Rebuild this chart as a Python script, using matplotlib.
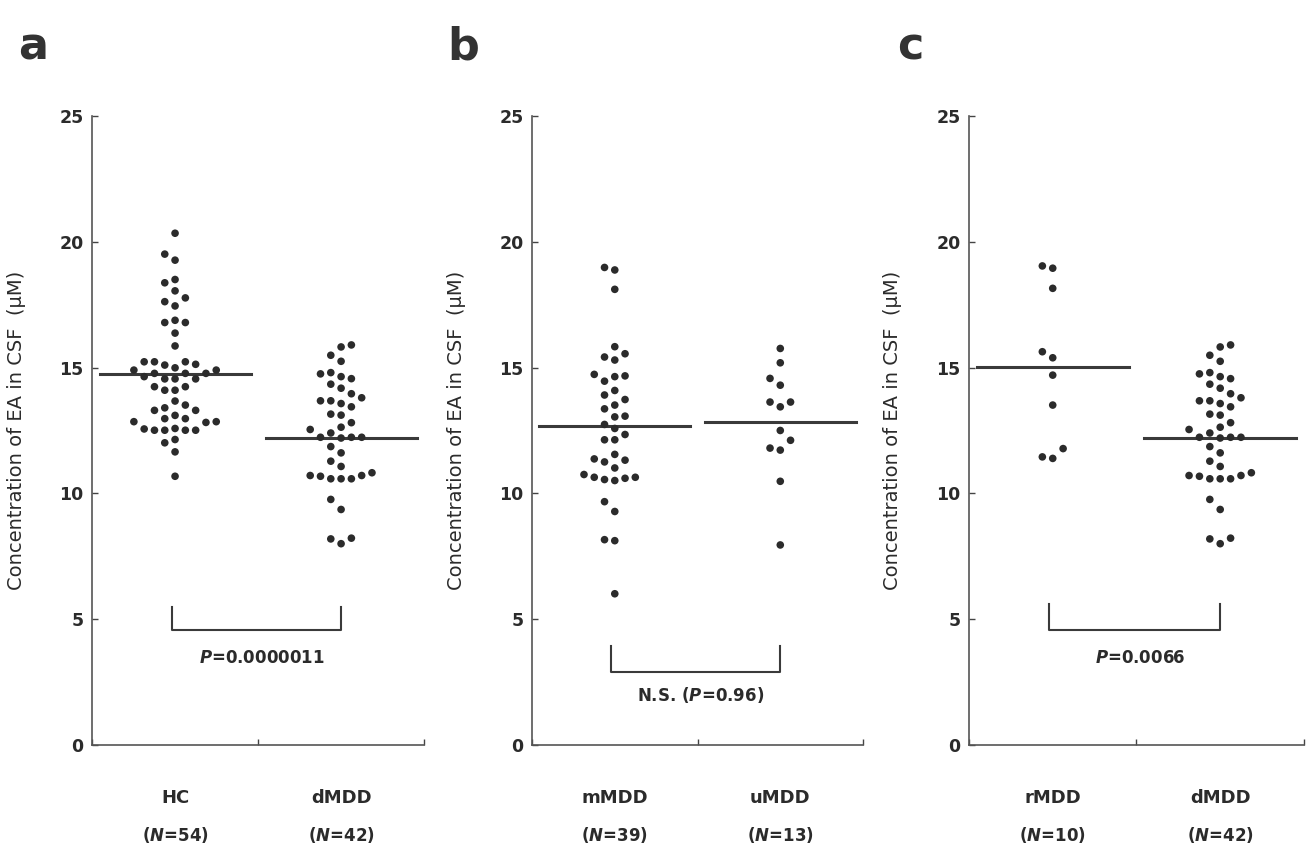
import matplotlib
matplotlib.use("Agg")
import matplotlib.pyplot as plt
import matplotlib.transforms as mtransforms
import numpy as np

plt.rcParams['font.family'] = ['DejaVu Sans']
plt.rcParams['mathtext.fontset'] = 'custom'
plt.rcParams['mathtext.it'] = 'DejaVu Sans:italic:bold'
plt.rcParams['mathtext.rm'] = 'DejaVu Sans:bold'

# EA concentration in CSF (uM)
hc = [20.34, 19.51, 19.27, 18.50, 18.37, 18.05, 17.77, 17.62, 17.45, 16.88,
      16.79, 16.79, 16.37, 15.86, 15.23, 15.23, 15.23, 15.10, 14.99, 15.13,
      14.90, 14.90, 14.77, 14.77, 14.77, 14.64, 14.55, 14.55, 14.55, 14.24,
      14.24, 14.10, 14.10, 13.67, 13.51, 13.40, 13.30, 13.30, 13.10, 12.97,
      12.97, 12.85, 12.82, 12.85, 12.58, 12.56, 12.51, 12.51, 12.51, 12.51,
      12.01, 12.14, 11.65, 10.68]
dmdd = [15.90, 15.82, 15.49, 15.25, 14.80, 14.75, 14.64, 14.56, 14.34, 14.18,
        13.96, 13.80, 13.68, 13.68, 13.57, 13.44, 13.11, 13.15, 12.81, 12.63,
        12.54, 12.40, 12.23, 12.23, 12.23, 12.20, 11.86, 11.61, 11.28, 11.07,
        10.82, 10.71, 10.58, 10.58, 10.58, 10.68, 10.71, 9.76, 9.36, 8.19,
        8.22, 8.00]
mmdd = [18.98, 18.88, 18.11, 15.83, 15.55, 15.42, 15.30, 14.73, 14.64, 14.67,
        14.46, 14.09, 13.91, 13.73, 13.51, 13.36, 13.07, 13.04, 12.74, 12.58,
        12.34, 12.13, 12.13, 11.55, 11.37, 11.32, 11.25, 11.01, 10.75, 10.64,
        10.64, 10.60, 10.55, 10.51, 9.67, 9.28, 8.16, 8.12, 6.01]
umdd = [15.76, 15.19, 14.57, 14.30, 13.63, 13.63, 13.44, 12.50, 12.11, 11.80,
        11.72, 10.48, 7.95]
rmdd = [19.04, 18.95, 18.15, 15.63, 15.39, 14.70, 13.51, 11.78, 11.45, 11.39]

# group means (horizontal bars)
mean_hc, mean_dmdd, mean_mmdd, mean_umdd, mean_rmdd = 14.73, 12.22, 12.68, 12.85, 15.01

panels = [
    dict(letter='a', groups=[('HC', hc, mean_hc, 54), ('dMDD', dmdd, mean_dmdd, 42)],
         ptext='$P$=0.0000011', bracket=(5.5, 4.55), ptext_y=3.47),
    dict(letter='b', groups=[('mMDD', mmdd, mean_mmdd, 39), ('uMDD', umdd, mean_umdd, 13)],
         ptext='N.S. ($P$=0.96)', bracket=(3.95, 2.9), ptext_y=2.0),
    dict(letter='c', groups=[('rMDD', rmdd, mean_rmdd, 10), ('dMDD', dmdd, mean_dmdd, 42)],
         ptext='$P$=0.0066', bracket=(5.6, 4.55), ptext_y=3.47),
]

axes_left = [0.0701, 0.4052, 0.7380]
axes_width = [0.2529, 0.2521, 0.2551]
letter_x = [0.014, 0.341, 0.683]


def swarm_slots(values, gap=0.42):
    # place each value in the nearest free column slot (0, -1, +1, -2, ...)
    order = np.argsort(values)
    slots = np.zeros(len(values), dtype=int)
    placed = []
    for i in order:
        v = values[i]
        k = 0
        cand = [0]
        for s in range(1, 12):
            cand += [-s, s]
        for c in cand:
            if all(not (p[1] == c and abs(p[0] - v) < gap) for p in placed):
                k = c
                break
        slots[i] = k
        placed.append((v, k))
    return slots


fig = plt.figure(figsize=(13.13, 8.51), dpi=100)
dark = '#2b2b2b'
step = 0.062

for idx, p in enumerate(panels):
    ax = fig.add_axes([axes_left[idx], 0.1246, axes_width[idx], 0.7391])
    for gi, (name, vals, m, n) in enumerate(p['groups']):
        vals = np.array(vals)
        xs = gi + swarm_slots(vals) * step
        ax.scatter(xs, vals, s=30, color=dark, edgecolors='none', zorder=3)
        ax.plot([gi - 0.455, gi + 0.455], [m, m], color='#3a3a3a', lw=2.2, zorder=2)
        trans = mtransforms.blended_transform_factory(ax.transData, ax.transAxes)
        ax.text(gi, -0.085, name, transform=trans, ha='center', va='center',
                fontsize=13, fontweight='bold', color=dark)
        ax.text(gi, -0.143, '($N$=%d)' % n, transform=trans, ha='center', va='center',
                fontsize=12, fontweight='bold', color=dark)

    top, bot = p['bracket']
    ax.plot([-0.02, -0.02, 1.0, 1.0], [top, bot, bot, top], color='#3a3a3a', lw=1.5)
    ax.text(0.52, p['ptext_y'], p['ptext'], ha='center', va='center',
            fontsize=12, fontweight='bold', color=dark)

    ax.set_xlim(-0.5, 1.5)
    ax.set_ylim(0, 25)
    ax.set_yticks([0, 5, 10, 15, 20, 25])
    ax.set_xticks([-0.5, 0.5, 1.5])
    ax.set_xticklabels([])
    ax.tick_params(axis='y', direction='in', length=4, width=1, pad=6,
                   labelsize=12.5, colors='#444444', labelcolor=dark)
    ax.tick_params(axis='x', direction='in', length=4, width=1, colors='#444444')
    for lbl in ax.get_yticklabels():
        lbl.set_fontweight('bold')
    ax.spines['top'].set_visible(False)
    ax.spines['right'].set_visible(False)
    for sp in ['left', 'bottom']:
        ax.spines[sp].set_color('#555555')
        ax.spines[sp].set_linewidth(1.2)
    ax.set_ylabel('Concentration of EA in CSF  (\u03bcM)', fontsize=14, color=dark)
    ax.yaxis.set_label_coords(-0.2, 0.5)

    fig.text(letter_x[idx], 0.945, p['letter'], fontsize=32, fontweight='bold',
             color='#333333', va='center', ha='left')

fig.savefig('out.png', dpi=100, facecolor='white')
